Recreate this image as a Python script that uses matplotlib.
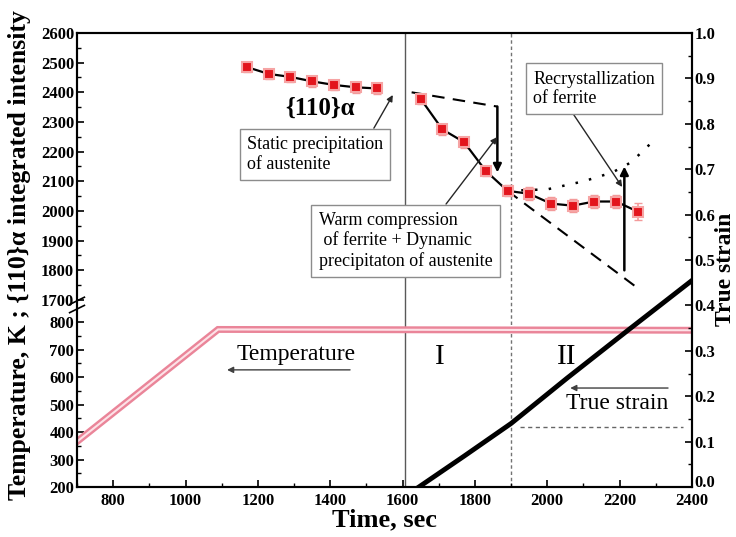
import numpy as np
import matplotlib

matplotlib.use("Agg")
import matplotlib.pyplot as plt
from matplotlib.ticker import FixedLocator, MultipleLocator
from matplotlib.transforms import ScaledTranslation

plt.rcParams["font.family"] = ["Liberation Serif", "DejaVu Serif"]

# {110}alpha integrated intensity (red squares with error bars)
t_static = [1170, 1230, 1290, 1350, 1410, 1470, 1530]
i_static = [2485, 2462, 2452, 2437, 2425, 2417, 2413]
e_static = [18, 18, 18, 18, 18, 18, 18]
t_dyn = [1650, 1710, 1770, 1830, 1890, 1950, 2010, 2070, 2130, 2190, 2250]
i_dyn = [2378, 2275, 2232, 2135, 2068, 2058, 2025, 2018, 2032, 2032, 1998]
e_dyn = [18, 18, 18, 18, 18, 22, 22, 22, 22, 22, 30]

# guide lines drawn by hand in the original figure
static_trend_t = [1625, 1862]
static_trend_i = [2400, 2352]
dyn_trend_t = [1890, 2250]
dyn_trend_i = [2068, 1740]
recryst_t = [1890, 2000, 2100, 2180, 2230, 2260, 2292]
recryst_i = [2068, 2073, 2100, 2130, 2163, 2197, 2235]

# temperature (left axis, lower part)
temp_t = [700, 1090, 2400]
temp_k = [365, 773, 770]

# true strain (right axis)
strain_t = [1645, 1770, 1900, 2055, 2221, 2400]
strain = [0.0, 0.068, 0.14, 0.24, 0.344, 0.455]
strain_ref = 0.132

stage_lines = [1606, 1900]

left_major = [200, 300, 400, 500, 600, 700, 800,
              1700, 1800, 1900, 2000, 2100, 2200, 2300, 2400, 2500, 2600]
left_minor = [250, 350, 450, 550, 650, 750,
              1750, 1850, 1950, 2050, 2150, 2250, 2350, 2450, 2550]

# broken left axis: two linear pieces joined by a short gap
BV = [200.0, 850.0, 1700.0, 2600.0]
BU = [0.0, 0.3937, 0.4119, 1.0]
S0 = (BU[1] - BU[0]) / (BV[1] - BV[0])
S1 = (BU[3] - BU[2]) / (BV[3] - BV[2])


def _fwd(v):
    v = np.asarray(v, dtype=float)
    u = np.interp(v, BV, BU)
    u = np.where(v < BV[0], BU[0] + (v - BV[0]) * S0, u)
    u = np.where(v > BV[-1], BU[-1] + (v - BV[-1]) * S1, u)
    return u


def _inv(u):
    u = np.asarray(u, dtype=float)
    v = np.interp(u, BU, BV)
    v = np.where(u < BU[0], BV[0] + (u - BU[0]) / S0, v)
    v = np.where(u > BU[-1], BV[-1] + (u - BU[-1]) / S1, v)
    return v


fig = plt.figure(figsize=(7.36, 5.37), dpi=100)
ax = fig.add_axes([77 / 736, 50 / 537, 615 / 736, 454 / 537])
ax.set_yscale("function", functions=(_fwd, _inv))
ax.set_xlim(700, 2400)
ax.set_ylim(200, 2600)

ax2 = ax.twinx()
ax2.set_ylim(0, 1.0)

# stage separators
ax.axvline(stage_lines[0], color="0.35", lw=1.0, zorder=1)
ax.axvline(stage_lines[1], color="0.45", lw=1.0, ls=(0, (2.5, 2)), zorder=1)

# temperature (pink double line)
ax.plot(temp_t, temp_k, color="#ea8599", lw=5, solid_joinstyle="miter", zorder=2)
ax.plot(temp_t, temp_k, color="#fde2e7", lw=1.5, solid_joinstyle="miter", zorder=2)

# intensity data
for tt, ii, ee in ((t_static, i_static, e_static), (t_dyn, i_dyn, e_dyn)):
    ax.errorbar(tt, ii, yerr=ee, fmt="none", ecolor="#f39a9a", elinewidth=1.2,
                capsize=3, capthick=1.0, zorder=3)
    ax.plot(tt, ii, color="black", lw=1.6, zorder=3)
    ax.plot(tt, ii, "s", ms=7, mfc="#e3151d", mec="#f6a4a4", mew=1.5, zorder=4)

ax.plot(static_trend_t, static_trend_i, color="black", lw=1.5, ls=(0, (6, 4)))
ax.plot(dyn_trend_t, dyn_trend_i, color="black", lw=1.5, ls=(0, (6, 4)))
ax.plot(recryst_t, recryst_i, color="black", lw=1.8, ls=(0, (1, 4.5)))

# vertical arrows marking the changes
ax.annotate("", xy=(1862, 2130), xytext=(1862, 2352),
            arrowprops=dict(arrowstyle="-|>", color="black", lw=1.8,
                            mutation_scale=12, shrinkA=0, shrinkB=0))
ax.annotate("", xy=(2213, 2150), xytext=(2213, 1800),
            arrowprops=dict(arrowstyle="-|>", color="black", lw=1.8,
                            mutation_scale=12, shrinkA=0, shrinkB=0))

# true strain
ax2.plot(strain_t, strain, color="black", lw=3.5, zorder=5)
ax2.plot([1925, 2376], [strain_ref, strain_ref], color="0.4", lw=1.0, ls=(0, (3, 2.5)))

# annotation boxes
box = dict(boxstyle="square,pad=0.4", fc="white", ec="0.55", lw=1.0)
arw = dict(arrowstyle="-|>", color="0.15", lw=1.0, mutation_scale=9,
           shrinkA=0, shrinkB=0)
ax.annotate("Static precipitation\nof austenite", xy=(1573, 2391),
            xytext=(0.387, 0.733), textcoords="axes fraction", fontsize=13,
            ha="center", va="center", multialignment="left", bbox=box,
            arrowprops=dict(arw, relpos=(0.9, 1.0)), zorder=6)
ax.annotate("Warm compression\n of ferrite + Dynamic\nprecipitaton of austenite",
            xy=(1861, 2249), xytext=(0.534, 0.542), textcoords="axes fraction",
            fontsize=13, ha="center", va="center", multialignment="left",
            bbox=box, arrowprops=dict(arw, relpos=(0.7, 1.0)), zorder=6)
ax.annotate("Recrystallization\nof ferrite", xy=(2207, 2081),
            xytext=(0.841, 0.877), textcoords="axes fraction", fontsize=13,
            ha="center", va="center", multialignment="left", bbox=box,
            arrowprops=dict(arw, relpos=(0.29, 0.0)), zorder=6)

ax.text(0.395, 0.835, "{110}α", transform=ax.transAxes, fontsize=18,
        fontweight="bold", ha="center", va="center")
ax.text(0.356, 0.291, "Temperature", transform=ax.transAxes, fontsize=17,
        ha="center", va="center")
ax.annotate("", xy=(0.244, 0.258), xytext=(0.444, 0.258), xycoords="axes fraction",
            arrowprops=dict(arw, color="0.25"))
ax.text(0.878, 0.185, "True strain", transform=ax.transAxes, fontsize=17,
        ha="center", va="center")
ax.annotate("", xy=(0.802, 0.218), xytext=(0.961, 0.218), xycoords="axes fraction",
            arrowprops=dict(arw, color="0.25"))
ax.text(0.590, 0.286, "I", transform=ax.transAxes, fontsize=21,
        ha="center", va="center")
ax.text(0.797, 0.286, "II", transform=ax.transAxes, fontsize=21,
        ha="center", va="center")

# axis break marks on the left spine
for yb in (0.392, 0.410):
    ax.plot([-0.012, 0.012], [yb - 0.008, yb + 0.008], transform=ax.transAxes,
            color="black", lw=1.2, clip_on=False, zorder=7)

# ticks and labels
tick_font = dict(fontsize=12, fontweight="bold")
ax.set_xticks(np.arange(800, 2401, 200))
ax.set_xticklabels([str(v) for v in range(800, 2401, 200)], **tick_font)
ax.xaxis.set_minor_locator(MultipleLocator(100))
ax.yaxis.set_major_locator(FixedLocator(left_major))
ax.yaxis.set_minor_locator(FixedLocator(left_minor))
ax.set_yticklabels([str(v) for v in left_major], **tick_font)
ax2.set_yticks(np.arange(0, 1.01, 0.1))
ax2.set_yticklabels([f"{v:.1f}" for v in np.arange(0, 1.01, 0.1)], **tick_font)
ax2.yaxis.set_minor_locator(MultipleLocator(0.05))

for a in (ax, ax2):
    a.tick_params(which="major", direction="in", length=5, width=1.2, pad=2)
    a.tick_params(which="minor", direction="in", length=3, width=1.0)
    for s in a.spines.values():
        s.set_linewidth(1.5)
ax.tick_params(axis="x", which="major", pad=4)

# lift the "0.0" label a little so it clears the "2400" below it
zero_lab = ax2.yaxis.get_major_ticks()[0].label2
zero_lab.set_transform(zero_lab.get_transform()
                       + ScaledTranslation(0, 4 / 72, fig.dpi_scale_trans))

ax.set_xlabel("Time, sec", fontsize=19, fontweight="bold", labelpad=0)
ax.set_ylabel("Temperature, K ; {110}α integrated intensity", fontsize=18.5,
              fontweight="bold")
ax.yaxis.set_label_coords(-0.075, 0.51)
ax2.set_ylabel("True strain", fontsize=17, fontweight="bold")
ax2.yaxis.set_label_coords(1.038, 0.48)

fig.savefig("out.png", dpi=100)
